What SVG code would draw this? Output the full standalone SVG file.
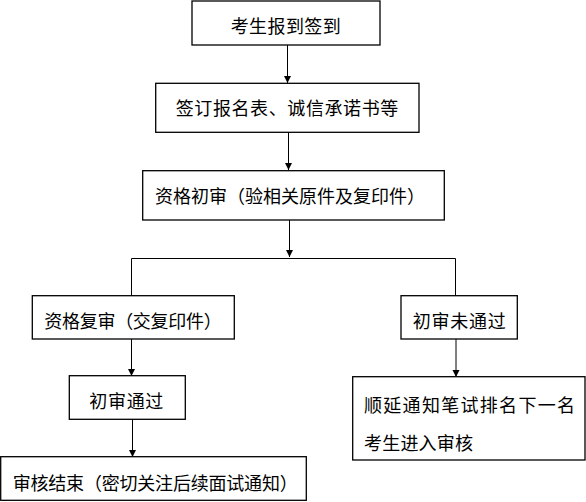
<svg xmlns="http://www.w3.org/2000/svg" width="586" height="502" viewBox="0 0 586 502">
<style>
.box{fill:#fff;stroke:#000;stroke-width:1.3}
.t{font-family:"Noto Sans CJK SC","Liberation Serif",serif;font-size:18px;fill:#000}
.c{fill:none;stroke:#000;stroke-width:1}
</style>
<defs>
<marker id="ah" viewBox="0 0 10 10" refX="10" refY="5" markerWidth="7" markerHeight="10" markerUnits="userSpaceOnUse" orient="auto">
<path d="M0,0 L10,5 L0,10 Z" fill="#000"/>
</marker>
</defs>
<rect width="586" height="502" fill="#fff"/>
<g id="connectors">
<line class="c" x1="287.5" y1="45" x2="287.5" y2="83" marker-end="url(#ah)"/>
<line class="c" x1="288.5" y1="132" x2="288.5" y2="170" marker-end="url(#ah)"/>
<line class="c" x1="289.5" y1="220" x2="289.5" y2="257" marker-end="url(#ah)"/>
<polyline class="c" points="131.5,296 131.5,258.5 455.5,258.5 455.5,296"/>
<line class="c" x1="131.5" y1="339" x2="131.5" y2="376" marker-end="url(#ah)"/>
<line class="c" x1="132.5" y1="419" x2="132.5" y2="457" marker-end="url(#ah)"/>
<line class="c" x1="456" y1="339" x2="456" y2="377" marker-end="url(#ah)"/>
</g>
<g id="n1"><rect class="box" x="192" y="1" width="188" height="44"/><text class="t" x="230.7" y="32.5" textLength="110" lengthAdjust="spacing">考生报到签到</text></g>
<g id="n2"><rect class="box" x="155.7" y="83.3" width="263.3" height="49"/><text class="t" x="175.7" y="115" textLength="222.6" lengthAdjust="spacing">签订报名表、诚信承诺书等</text></g>
<g id="n3"><rect class="box" x="142.7" y="170.7" width="301.6" height="49.3"/><text class="t" x="155" y="203" textLength="270" lengthAdjust="spacing">资格初审（验相关原件及复印件）</text></g>
<g id="n4"><rect class="box" x="32.3" y="295.7" width="202" height="43.3"/><text class="t" x="44.3" y="328" textLength="177.4" lengthAdjust="spacing">资格复审（交复印件）</text></g>
<g id="n5"><rect class="box" x="69.3" y="375.7" width="116" height="43.6"/><text class="t" x="89.3" y="408" textLength="74" lengthAdjust="spacing">初审通过</text></g>
<g id="n6"><rect class="box" x="0.7" y="456.7" width="305.6" height="43.6"/><text class="t" x="12.7" y="490" textLength="285" lengthAdjust="spacing">审核结束（密切关注后续面试通知）</text></g>
<g id="n7"><rect class="box" x="401" y="295.7" width="116.3" height="43.3"/><text class="t" x="412.7" y="328" textLength="93" lengthAdjust="spacing">初审未通过</text></g>
<g id="n8"><rect class="box" x="352.7" y="376.7" width="232.3" height="83.3"/><text class="t" x="364" y="411.5" textLength="211" lengthAdjust="spacing">顺延通知笔试排名下一名</text><text class="t" x="364" y="450" textLength="109" lengthAdjust="spacing">考生进入审核</text></g>
</svg>
